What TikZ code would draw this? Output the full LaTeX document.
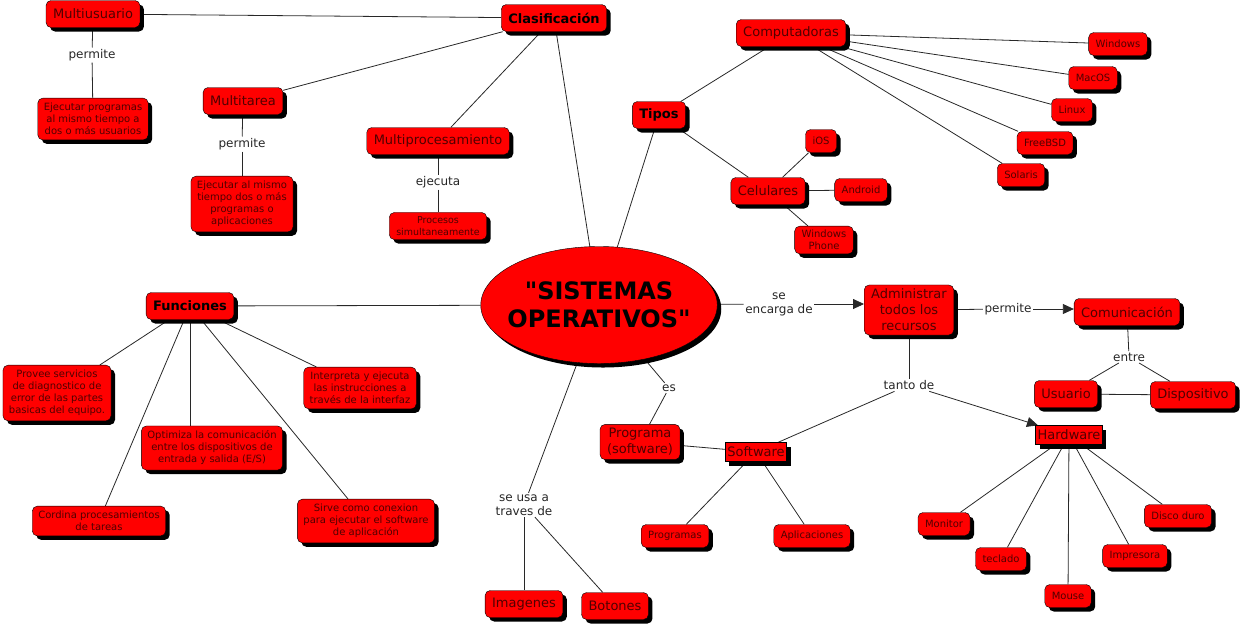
\documentclass[tikz,border=0pt]{standalone}
\usepackage{fontspec}
\setmainfont{DejaVu Sans}[Ligatures=TeXOff]
\usetikzlibrary{shapes.geometric,shadows,arrows.meta,backgrounds}
\definecolor{boxred}{RGB}{255, 0, 0}
\definecolor{boxtext}{RGB}{80, 0, 0}
\definecolor{edgecolor}{RGB}{40, 40, 40}

\begin{document}
\begin{tikzpicture}[x=1pt, y=-1pt,
    concept/.style={draw=black, fill=boxred, rounded corners=5pt, text=boxtext, align=center,
        font=\fontsize{13}{16}\selectfont, inner xsep=7pt, inner ysep=4pt, minimum height=27pt,
        drop shadow={shadow xshift=4pt, shadow yshift=-4pt, fill=black, opacity=1}},
    head/.style={concept, text=black, font=\fontsize{13}{16}\selectfont\bfseries},
    leaf/.style={concept, font=\fontsize{10}{12}\selectfont, inner xsep=7pt, minimum height=23pt},
    note/.style={concept, font=\fontsize{10}{12}\selectfont, inner xsep=6pt, inner ysep=5pt},
    flatbox/.style={concept, rounded corners=0pt, minimum height=19pt, inner xsep=2pt, inner ysep=1pt},
    core/.style={ellipse, draw=black, fill=boxred, align=center, minimum width=233pt, minimum height=117pt,
        inner xsep=-8pt, inner ysep=0pt, font=\fontsize{24}{28}\selectfont\bfseries,
        drop shadow={shadow xshift=4pt, shadow yshift=-4pt, fill=black, opacity=1}},
    linkword/.style={font=\fontsize{12}{14}\selectfont, align=center, inner sep=1.5pt, text=black!85},
    arc/.style={draw, edgecolor, line width=0.8pt},
    arrow/.style={arc, -{Triangle[length=11pt, width=10pt]}}
    ]
    \useasboundingbox (0,0) rectangle (1242,625);

    % Define vertices
    \node[core] (so) at (599,305) {"SISTEMAS\\OPERATIVOS"};

    \node[head] (clasif) at (554,18) {Clasificación};
    \node[concept] (musu) at (93,14) {Multiusuario};
    \node[concept] (mtar) at (243,101) {Multitarea};
    \node[concept] (mproc) at (438,141) {Multiprocesamiento};
    \node[note] (ejec1) at (93,119) {Ejecutar programas\\al mismo tiempo a\\dos o más usuarios};
    \node[note] (ejec2) at (242,204) {Ejecutar al mismo\\tiempo dos o más\\programas o\\aplicaciones};
    \node[leaf, font=\fontsize{9.5}{12}\selectfont] (proc) at (438,226) {Procesos\\simultaneamente};

    \node[head] (tipos) at (659,115) {Tipos};
    \node[concept] (comp) at (791,33) {Computadoras};
    \node[concept] (cel) at (768,191) {Celulares};
    \foreach \name/\x/\y/\txt in {win/1118/44/Windows, mac/1093/78/MacOS, lin/1072/110/Linux,
        bsd/1045/143/FreeBSD, sol/1021/175/Solaris, ios/821/141/iOS, andr/861/190/Android}
        \node[leaf] (\name) at (\x,\y) {\txt};
    \node[leaf] (wph) at (824,240) {Windows\\Phone};

    \node[head] (func) at (190,306) {Funciones};
    \node[note] (provee) at (57,393) {Provee servicios\\de diagnostico de\\error de las partes\\basicas del equipo.};
    \node[note] (interp) at (360,388) {Interpreta y ejecuta\\las instrucciones a\\través de la interfaz};
    \node[note] (optim) at (212,448) {Optimiza la comunicación\\entre los dispositivos de\\entrada y salida (E/S)};
    \node[note] (cord) at (99,521) {Cordina procesamientos\\de tareas};
    \node[note] (sirve) at (366,521) {Sirve como conexion\\para ejecutar el software\\de aplicación};

    \node[concept] (admin) at (909,310) {Administrar\\todos los\\recursos};
    \node[concept] (comu) at (1127,312) {Comunicación};
    \node[concept] (usu) at (1066,394) {Usuario};
    \node[concept] (disp) at (1193,395) {Dispositivo};
    \node[flatbox] (hard) at (1069,435) {Hardware};
    \node[flatbox] (soft) at (756,452) {Software};
    \node[concept] (prog) at (640,442) {Programa\\(software)};
    \node[leaf] (progs) at (675,536) {Programas};
    \node[leaf] (apli) at (812,536) {Aplicaciones};
    \node[concept] (imag) at (524,604) {Imagenes};
    \node[concept] (boton) at (615,606) {Botones};
    \foreach \name/\x/\y/\txt in {moni/944/524/Monitor, tecl/1001/559/teclado, mouse/1068/596/Mouse,
        impr/1135/556/Impresora, disco/1178/516/Disco duro}
        \node[leaf] (\name) at (\x,\y) {\txt};

    % Linking words
    \node[linkword] (perm1) at (92,55) {permite};
    \node[linkword] (perm2) at (242,144) {permite};
    \node[linkword] (ejecuta) at (438,182) {ejecuta};
    \node[linkword] (encarga) at (779,304) {se\\encarga de};
    \node[linkword] (perm3) at (1008,309) {permite};
    \node[linkword] (entre) at (1129,357) {entre};
    \node[linkword] (tanto) at (909,385) {tanto de};
    \node[linkword] (es) at (669,388) {es};
    \node[linkword] (usa) at (524,505) {se usa a\\traves de};

    % Define edges
    \begin{scope}[on background layer]
        \foreach \a/\b in {clasif/musu, clasif/mtar, clasif/mproc, clasif/so,
            musu/perm1, perm1/ejec1, mtar/perm2, perm2/ejec2, mproc/ejecuta, ejecuta/proc,
            so/tipos, tipos/comp, tipos/cel, comp/win, comp/mac, comp/lin, comp/bsd, comp/sol,
            cel/ios, cel/andr, cel/wph,
            so/func, func/provee, func/interp, func/cord, func/sirve,
            so/encarga, admin/perm3, comu/entre, entre/usu, entre/disp, usu/disp,
            admin/tanto, tanto/soft, so/es, es/prog, prog/soft, soft/progs, soft/apli,
            so/usa, usa/imag, usa/boton,
            hard/moni, hard/tecl, hard/mouse, hard/impr, hard/disco}
            \draw[arc] (\a) -- (\b);
        \draw[arc] (func.south) -- (func.south |- optim.north);
        \draw[arrow] (encarga) -- (encarga -| admin.west);
        \draw[arrow] (perm3) -- (perm3 -| comu.west);
        \draw[arrow] (tanto) -- (hard);
    \end{scope}
\end{tikzpicture}
\end{document}
